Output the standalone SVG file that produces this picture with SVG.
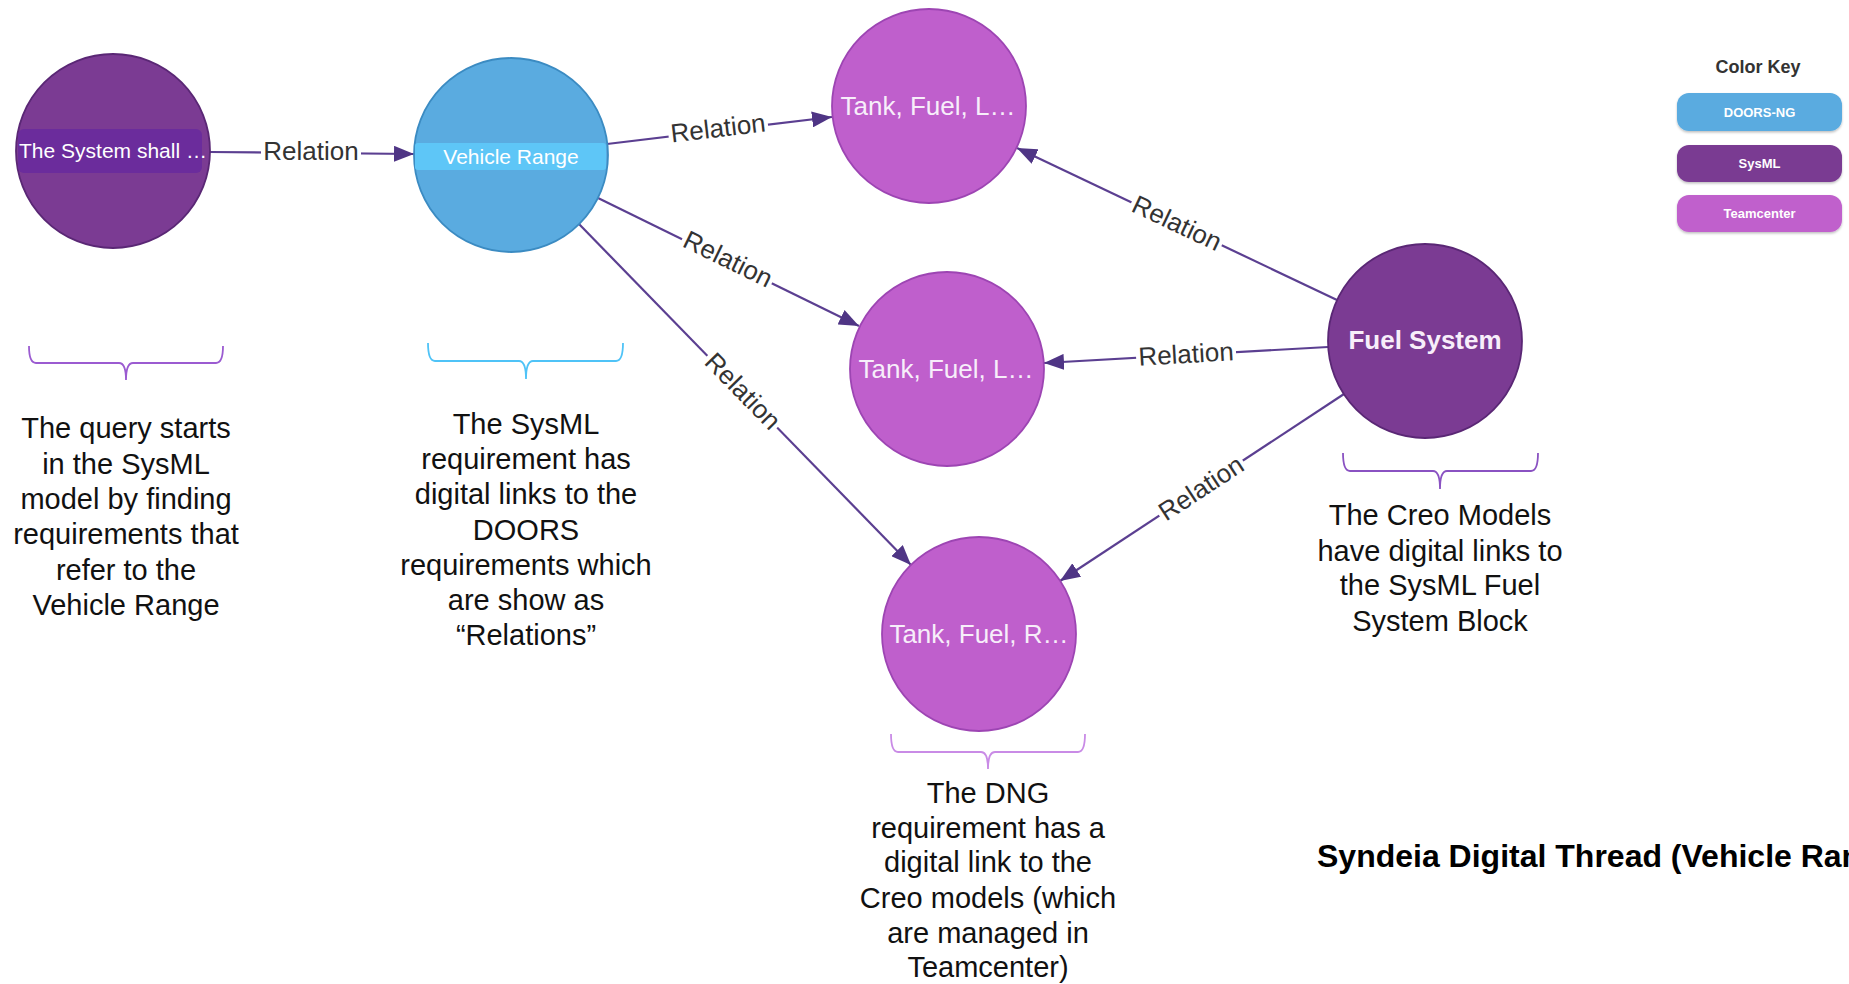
<svg xmlns="http://www.w3.org/2000/svg" width="1849" height="984" viewBox="0 0 1849 984">
<defs>
<style>
.edge{stroke:#5b3f91;stroke-width:2.2;fill:none;marker-end:url(#arrow)}
.elbl{font-family:"Liberation Sans",Arial,sans-serif;font-size:26px;fill:#333;text-anchor:middle;dominant-baseline:central}
.lblbg{fill:#fff}
.sysml{fill:#7b3b93;stroke:#5a2775;stroke-width:1.8}
.doors{fill:#5aabe0;stroke:#3b8bc2;stroke-width:1.8}
.tc{fill:#bf5fcc;stroke:#9d45b3;stroke-width:1.8}
.ntext{font-family:"Liberation Sans",Arial,sans-serif;font-size:26px;fill:#f7eefa;text-anchor:middle}
.ntext2{font-family:"Liberation Sans",Arial,sans-serif;font-size:21px;fill:#fff;text-anchor:middle}
.note{font-family:"Liberation Sans",Arial,sans-serif;font-size:29px;fill:#111;text-anchor:middle}
.brace{fill:none;stroke-width:1.8}
.key{font-family:"Liberation Sans",Arial,sans-serif;font-size:13px;font-weight:bold;fill:#fff;text-anchor:middle}
</style>
<marker id="arrow" viewBox="0 0 20 16" refX="20" refY="8" markerWidth="20" markerHeight="16" markerUnits="userSpaceOnUse" orient="auto">
<path d="M0,0 L20,8 L0,16 Z" fill="#4f3585"/>
</marker>
<filter id="sh" x="-10%" y="-20%" width="120%" height="150%">
<feDropShadow dx="0" dy="1.5" stdDeviation="1.2" flood-color="#000" flood-opacity="0.25"/>
</filter>
</defs>
<rect x="0" y="0" width="1849" height="984" fill="#fff"/>

<g id="connectors">
<line class="edge" x1="210" y1="152" x2="414" y2="154"/>
<line class="edge" x1="607" y1="144" x2="832" y2="117"/>
<line class="edge" x1="598" y1="198" x2="859" y2="326"/>
<line class="edge" x1="579" y1="224" x2="911" y2="565"/>
<line class="edge" x1="1337" y1="300" x2="1017" y2="148"/>
<line class="edge" x1="1328" y1="347" x2="1044" y2="363"/>
<line class="edge" x1="1344" y1="394" x2="1060" y2="581"/>
<g transform="translate(311,151)"><rect class="lblbg" x="-50" y="-12" width="100" height="24"/><text class="elbl" x="0" y="0">Relation</text></g>
<g transform="translate(718,128) rotate(-6.7)"><rect class="lblbg" x="-50" y="-12" width="100" height="24"/><text class="elbl" x="0" y="0">Relation</text></g>
<g transform="translate(728,259) rotate(26.1)"><rect class="lblbg" x="-50" y="-12" width="100" height="24"/><text class="elbl" x="0" y="0">Relation</text></g>
<g transform="translate(743,391) rotate(45.7)"><rect class="lblbg" x="-50" y="-12" width="100" height="24"/><text class="elbl" x="0" y="0">Relation</text></g>
<g transform="translate(1177,223) rotate(25.3)"><rect class="lblbg" x="-50" y="-12" width="100" height="24"/><text class="elbl" x="0" y="0">Relation</text></g>
<g transform="translate(1186,354) rotate(-3.4)"><rect class="lblbg" x="-50" y="-12" width="100" height="24"/><text class="elbl" x="0" y="0">Relation</text></g>
<g transform="translate(1201,488) rotate(-33.3)"><rect class="lblbg" x="-50" y="-12" width="100" height="24"/><text class="elbl" x="0" y="0">Relation</text></g>
</g>

<g id="node-system-shall">
<circle class="sysml" cx="113" cy="151" r="97"/>
<rect x="18" y="129" width="184" height="44" rx="6" fill="#6b2c9c"/>
<text class="ntext2" x="113" y="158">The System shall …</text>
</g>
<g id="node-vehicle-range">
<circle class="doors" cx="511" cy="155" r="97"/>
<rect x="415" y="143" width="191" height="27" rx="3" fill="#5ec6f7"/>
<text class="ntext2" x="511" y="164">Vehicle Range</text>
</g>
<g id="node-tank-1">
<circle class="tc" cx="929" cy="106" r="97"/>
<text class="ntext" x="928" y="115">Tank, Fuel, L…</text>
</g>
<g id="node-tank-2">
<circle class="tc" cx="947" cy="369" r="97"/>
<text class="ntext" x="946" y="378">Tank, Fuel, L…</text>
</g>
<g id="node-tank-3">
<circle class="tc" cx="979" cy="634" r="97"/>
<text class="ntext" x="979" y="643">Tank, Fuel, R…</text>
</g>
<g id="node-fuel-system">
<circle class="sysml" cx="1425" cy="341" r="97"/>
<text class="ntext" x="1425" y="349" font-weight="bold" font-size="25">Fuel System</text>
</g>

<g id="note-query">
<path class="brace" stroke="#9b5bd1" d="M29,346 Q29,363 36,363 L119,363 Q126,363 126,380 Q126,363 133,363 L216,363 Q223,363 223,346"/>
<text class="note"><tspan x="126" y="438">The query starts</tspan><tspan x="126" y="473.5">in the SysML</tspan><tspan x="126" y="509">model by finding</tspan><tspan x="126" y="544">requirements that</tspan><tspan x="126" y="580">refer to the</tspan><tspan x="126" y="615">Vehicle Range</tspan></text>
</g>
<g id="note-sysml">
<path class="brace" stroke="#4fc3f7" d="M428,343 Q428,361 435,361 L519,361 Q526,361 526,379 Q526,361 533,361 L616,361 Q623,361 623,343"/>
<text class="note"><tspan x="526" y="434">The SysML</tspan><tspan x="526" y="469">requirement has</tspan><tspan x="526" y="504">digital links to the</tspan><tspan x="526" y="540">DOORS</tspan><tspan x="526" y="575">requirements which</tspan><tspan x="526" y="610">are show as</tspan><tspan x="526" y="645">“Relations”</tspan></text>
</g>
<g id="note-dng">
<path class="brace" stroke="#c98be6" d="M891,734 Q891,752 898,752 L981,752 Q988,752 988,769 Q988,752 995,752 L1078,752 Q1085,752 1085,734"/>
<text class="note"><tspan x="988" y="803">The DNG</tspan><tspan x="988" y="838">requirement has a</tspan><tspan x="988" y="872">digital link to the</tspan><tspan x="988" y="908">Creo models (which</tspan><tspan x="988" y="943">are managed in</tspan><tspan x="988" y="977">Teamcenter)</tspan></text>
</g>
<g id="note-creo">
<path class="brace" stroke="#8a52c2" d="M1343,453 Q1343,471 1350,471 L1433,471 Q1440,471 1440,489 Q1440,471 1447,471 L1531,471 Q1538,471 1538,453"/>
<text class="note"><tspan x="1440" y="525">The Creo Models</tspan><tspan x="1440" y="561">have digital links to</tspan><tspan x="1440" y="595">the SysML Fuel</tspan><tspan x="1440" y="631">System Block</tspan></text>
</g>

<g id="color-key">
<text x="1758" y="73" font-family="'Liberation Sans',Arial,sans-serif" font-size="18" font-weight="bold" fill="#333" text-anchor="middle">Color Key</text>
<rect x="1677" y="93" width="165" height="38" rx="12" fill="#5aabe0" filter="url(#sh)"/>
<text class="key" x="1759.5" y="117">DOORS-NG</text>
<rect x="1677" y="145" width="165" height="37" rx="12" fill="#7a3a92" filter="url(#sh)"/>
<text class="key" x="1759.5" y="168">SysML</text>
<rect x="1677" y="195" width="165" height="37" rx="12" fill="#c060cc" filter="url(#sh)"/>
<text class="key" x="1759.5" y="218">Teamcenter</text>
</g>

<g id="title">
<text x="1317" y="867" font-family="'Liberation Sans',Arial,sans-serif" font-size="32" font-weight="bold" fill="#000">Syndeia Digital Thread (Vehicle Range)</text>
</g>
</svg>
